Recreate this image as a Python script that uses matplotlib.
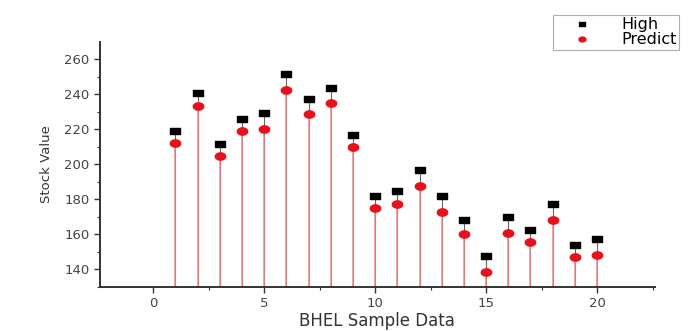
import numpy as np
import matplotlib.pyplot as plt
from matplotlib.path import Path

# datos
muestra = np.arange(1, 21)
high = [219.1, 240.5, 211.7, 225.7, 229.1, 251.5, 237.4, 243.5, 216.6, 181.7,
        185.0, 196.5, 181.7, 168.0, 147.6, 170.0, 162.4, 177.4, 153.8, 157.1]
predict = [212.4, 233.5, 204.8, 219.1, 220.2, 242.6, 228.9, 234.8, 209.8, 174.9,
           177.1, 187.8, 173.0, 160.3, 138.7, 161.0, 155.6, 168.3, 147.2, 148.1]

# marcadores achatados (rectangulo y elipse)
rect = Path([(-1, -0.55), (1, -0.55), (1, 0.55), (-1, 0.55), (-1, -0.55)],
            [Path.MOVETO, Path.LINETO, Path.LINETO, Path.LINETO, Path.CLOSEPOLY])
t = np.linspace(0, 2 * np.pi, 40)
elipse = Path(np.column_stack([np.cos(t), 0.7 * np.sin(t)]))

fig = plt.figure(figsize=(6.96, 3.31), dpi=100)
ax = fig.add_axes([0.1437, 0.133, 0.797, 0.74])

ymin = 130.3
ax.vlines(muestra, ymin, high, colors='#666666', linewidth=0.8, zorder=1)
ax.vlines(muestra, ymin, predict, colors='#f28a8a', linewidth=1.1, zorder=2)
ax.plot(muestra, high, linestyle='none', marker=rect, markersize=7,
        color='black', label='High', zorder=3)
ax.plot(muestra, predict, linestyle='none', marker=elipse, markersize=7.5,
        color='#e8101a', label='Predict', zorder=4)

ax.set_xlim(-2.4, 22.6)
ax.set_ylim(ymin, 269.7)
ax.set_xticks([0, 5, 10, 15, 20])
ax.set_xticks([2.5, 7.5, 12.5, 17.5, 22.5], minor=True)
ax.set_yticks(np.arange(140, 261, 20))
ax.set_yticks(np.arange(130, 270, 10), minor=True)

for s in ['top', 'right']:
  ax.spines[s].set_visible(False)
for s in ['left', 'bottom']:
  ax.spines[s].set_color('#333333')
  ax.spines[s].set_linewidth(1.4)

ax.tick_params(axis='both', which='major', length=4, width=1, colors='#333333',
               labelsize=9.5, labelcolor='#444444')
ax.tick_params(axis='both', which='minor', length=2.5, width=0.8, colors='#333333')

ax.set_xlabel('BHEL Sample Data', fontsize=12, color='#333333', labelpad=1)
ax.set_ylabel('Stock Value', fontsize=9.5, color='#333333', labelpad=8)

leg = ax.legend(loc='upper left', bbox_to_anchor=(553 / 696, 1 - 15 / 331),
                bbox_transform=fig.transFigure, fontsize=11.5, frameon=True,
                fancybox=False, edgecolor='#999999', handlelength=3.3,
                borderpad=0.15, labelspacing=0.0, handletextpad=0.8,
                borderaxespad=0)
leg.get_frame().set_linewidth(0.8)
for h in leg.legend_handles:
  h.set_markersize(5)

plt.savefig('out.png', dpi=100)
